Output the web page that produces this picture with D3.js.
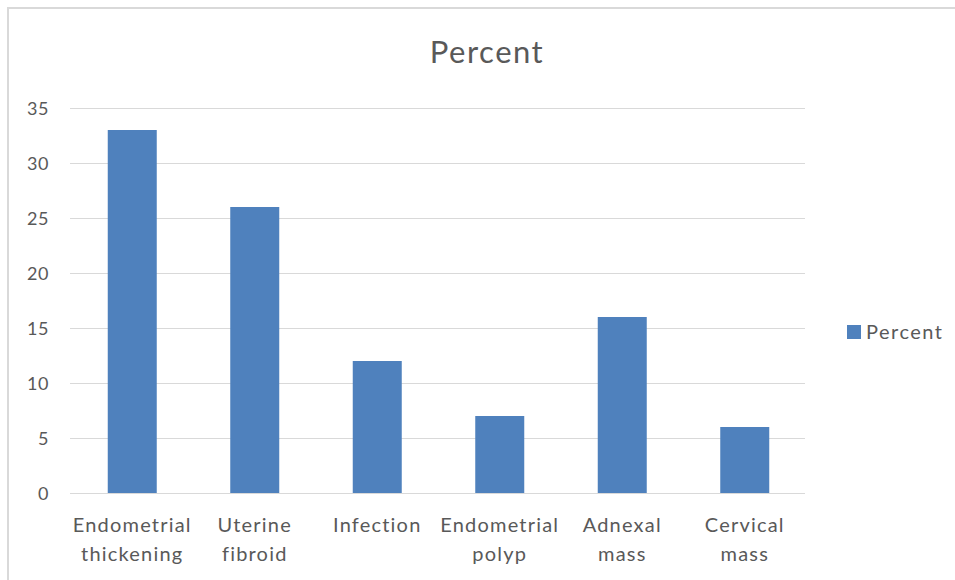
<!DOCTYPE html>
<html><head><meta charset="utf-8">
<script src="https://cdn.jsdelivr.net/npm/d3@7"></script>
<style>body{margin:0;background:#fff}svg{display:block}text{font-family:Lato,"Open Sans",sans-serif}</style>
</head><body>
<svg id="c" width="955" height="580"></svg>
<script>
const categories = [["Endometrial","thickening"],["Uterine","fibroid"],["Infection"],["Endometrial","polyp"],["Adnexal","mass"],["Cervical","mass"]];
const values = [33, 26, 12, 7, 16, 6];
const yTicks = [0,5,10,15,20,25,30,35];
const seriesName = "Percent";
const color = "#4f81bd";

const svg = d3.select("#c");
svg.append("rect").attr("x",8).attr("y",8).attr("width",1000).attr("height",700)
  .attr("fill","#fff").attr("stroke","#d9d9d9").attr("stroke-width",2);

const x = d3.scaleBand().domain(d3.range(categories.length)).range([71,806]).paddingInner(0.6).paddingOuter(0.3);
const y = d3.scaleLinear().domain([0,35]).range([493,108]);

const grid = svg.append("g");
grid.selectAll("line").data(yTicks).join("line")
  .attr("x1",70).attr("x2",805).attr("y1",d=>y(d)+0.5).attr("y2",d=>y(d)+0.5)
  .attr("stroke","#d9d9d9").attr("stroke-width",1);

const yAxis = svg.append("g").attr("transform","translate(49,0)")
  .call(d3.axisLeft(y).tickValues(yTicks).tickSize(0).tickPadding(0));
yAxis.select(".domain").remove();
yAxis.selectAll("text").attr("font-size",18).attr("fill","#595959").attr("font-family","Lato,sans-serif").attr("dy","0.35em").attr("letter-spacing",0.5);

svg.append("g").selectAll("rect").data(values).join("rect")
  .attr("x",(d,i)=>x(i)).attr("width",x.bandwidth())
  .attr("y",d=>y(d)).attr("height",d=>y(0)-y(d)).attr("fill",color);

svg.append("line").attr("x1",70).attr("x2",805).attr("y1",y(0)+0.5).attr("y2",y(0)+0.5).attr("stroke","#d9d9d9");

const xl = svg.append("g");
categories.forEach((lines,i)=>{
  const cx = x(i)+x.bandwidth()/2;
  const t = xl.append("text").attr("x",cx).attr("text-anchor","middle")
    .attr("font-size",20).attr("letter-spacing",1.2).attr("fill","#595959");
  lines.forEach((l,j)=>t.append("tspan").attr("x",cx).attr("y",532+j*29).text(l));
});

svg.append("text").attr("x",487).attr("y",63).attr("text-anchor","middle")
  .attr("font-size",31).attr("letter-spacing",1.5).attr("fill","#595959").text(seriesName);

svg.append("rect").attr("x",847).attr("y",325).attr("width",14).attr("height",14).attr("fill",color);
svg.append("text").attr("x",866).attr("y",339).attr("font-size",20).attr("letter-spacing",1.5).attr("fill","#595959").text(seriesName);
</script>
</body></html>
